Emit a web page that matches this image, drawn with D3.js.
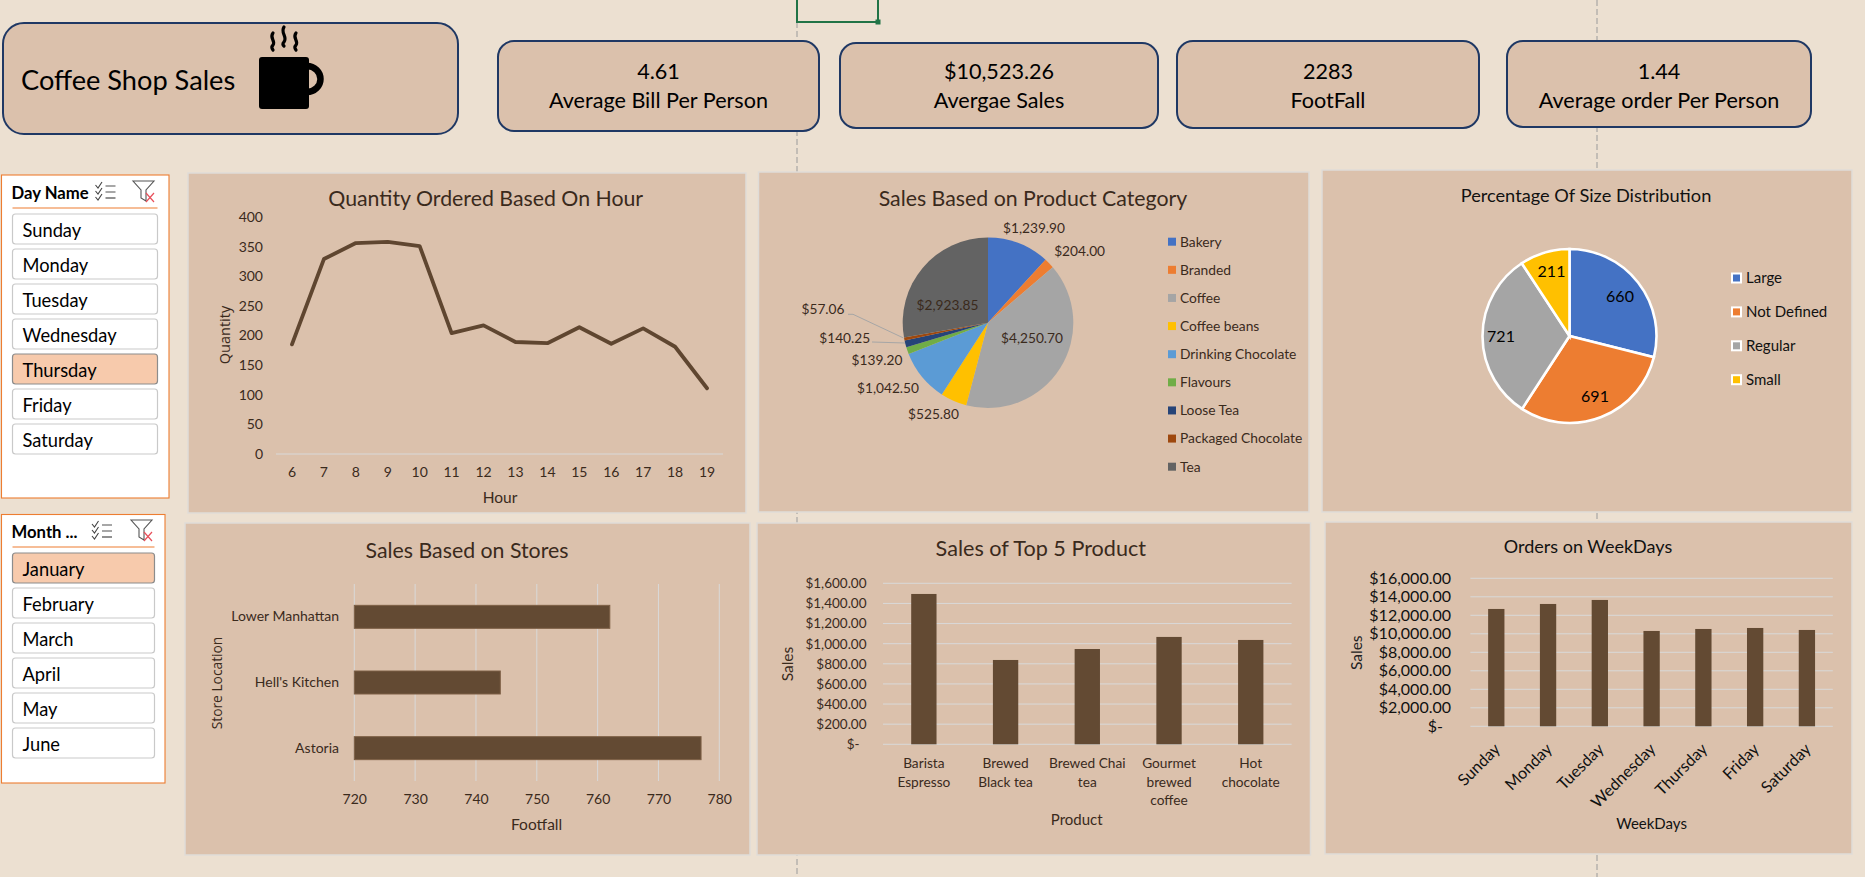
<!DOCTYPE html>
<html><head><meta charset="utf-8">
<style>html,body{margin:0;padding:0;background:#ece0d1;overflow:hidden}svg{display:block}text{font-family:Lato,"Open Sans",sans-serif}</style>
<script src="https://cdn.jsdelivr.net/npm/d3@7"></script>
</head><body><svg id="c" width="1865" height="877"></svg>
<script>
// ---- data ----
const dayNames = ["Sunday","Monday","Tuesday","Wednesday","Thursday","Friday","Saturday"];
const monthNames = ["January","February","March","April","May","June"];
const selectedDay = "Thursday", selectedMonth = "January";
const kpiValues = ["4.61","$10,523.26","2283","1.44"];
const kpiLabels = ["Average Bill Per Person","Avergae Sales","FootFall","Average order Per Person"];
const hours = [6,7,8,9,10,11,12,13,14,15,16,17,18,19];
const hourQty = [185,329,356,358,351,204,217,189,187,214,186,212,181,111];
const categories = ["Bakery","Branded","Coffee","Coffee beans","Drinking Chocolate","Flavours","Loose Tea","Packaged Chocolate","Tea"];
const categorySales = [1239.90,204.00,4250.70,525.80,1042.50,139.20,140.25,57.06,2923.85];
const sizes = ["Large","Not Defined","Regular","Small"];
const sizeCounts = [660,691,721,211];
const stores = ["Lower Manhattan","Hell's Kitchen","Astoria"];
const storeFootfall = [762,744,777];
const products = [["Barista","Espresso"],["Brewed","Black tea"],["Brewed Chai","tea"],["Gourmet","brewed","coffee"],["Hot","chocolate"]];
const productSales = [1494,838,947,1067,1037];
const weekdaySales = [12685,13225,13658,10306,10522,10630,10414];
// ---- style ----
const BG="#ece0d1",PANEL="#dbc1ac",NAVY="#1f3864",BAR="#634a33",LINE="#5f4630",GRID="#d9d9d9",TXT="#3a2a1c",ORG="#ed7d31";
const OFFICE=["#4472c4","#ed7d31","#a5a5a5","#ffc000","#5b9bd5","#70ad47","#264478","#9e480e","#636363"];
const svg=d3.select("#c");
function T(g,x,y,s,size,o={}){const t=g.append("text").attr("x",x).attr("y",y).attr("dy","0.35em").attr("font-size",size)
  .attr("fill",o.fill||TXT).attr("text-anchor",o.anchor||"middle").text(s);
  if(o.weight)t.attr("font-weight",o.weight);
  if(o.rot)t.attr("transform",`rotate(${o.rot} ${x} ${y})`);
  if(o.family)t.style("font-family",o.family);
  return t;}
function panel(x0,y0,x1,y1){svg.append("rect").attr("x",x0).attr("y",y0).attr("width",x1-x0).attr("height",y1-y0).attr("fill",PANEL).attr("stroke","#dfdcd8").attr("stroke-width",1.5);}
function card(x0,y0,x1,y1,r){svg.append("rect").attr("x",x0).attr("y",y0).attr("width",x1-x0).attr("height",y1-y0).attr("rx",r).attr("fill",PANEL).attr("stroke",NAVY).attr("stroke-width",2);}
function cleanAxis(g,size,color){g.select(".domain").remove();g.selectAll(".tick line").remove();g.selectAll("text").attr("font-size",size).attr("fill",color||TXT).style("font-family","Lato");}

// sheet furniture
[797,1597].forEach(x=>svg.append("line").attr("x1",x).attr("x2",x).attr("y1",x===797?22:0).attr("y2",877).attr("stroke","#9a9a9a").attr("stroke-dasharray","6 3"));
svg.append("rect").attr("x",797).attr("y",-3).attr("width",81).attr("height",25).attr("fill","none").attr("stroke","#217346").attr("stroke-width",2);
svg.append("rect").attr("x",875.5).attr("y",19.5).attr("width",5).attr("height",5).attr("fill","#217346");

// header
card(3,23,458,134,21);
T(svg,21,80,"Coffee Shop Sales",27.2,{anchor:"start",fill:"#000"});
const mug=svg.append("g");
mug.append("path").attr("fill","none").attr("stroke","#000").attr("stroke-width",6.5).attr("d","M307 66 A13.5 13 0 0 1 307 92");
mug.append("rect").attr("x",259).attr("y",57).attr("width",50).attr("height",52).attr("rx",3).attr("fill","#000");
[["M273 33 C269 38,276 41,273 45 C271 47,272 49,273 50"],["M284 27 C280 33,288 37,284 42 C282 44,283 45,284 46"],["M296 33 C292 38,299 41,296 45 C294 47,295 49,296 50"]].forEach(d=>
  mug.append("path").attr("d",d[0]).attr("fill","none").attr("stroke","#000").attr("stroke-width",3.2).attr("stroke-linecap","round"));
const kpiBox=[[498,41,819,131],[840,43,1158,128],[1177,41,1479,128],[1507,41,1811,127]];
kpiBox.forEach((b,i)=>{card(b[0],b[1],b[2],b[3],16);
  T(svg,(b[0]+b[2])/2,71,kpiValues[i],21.6,{fill:"#000"});
  T(svg,(b[0]+b[2])/2,100.5,kpiLabels[i],21.6,{fill:"#000"});});

// slicers
function slicer(x0,y0,x1,y1,title,items,sel,ix0,ix1,iy0,lineY,mx,fx){
  const g=svg.append("g");
  g.append("rect").attr("x",x0).attr("y",y0).attr("width",x1-x0).attr("height",y1-y0).attr("fill","#fff").attr("stroke",ORG).attr("stroke-width",1.1);
  T(g,ix0-1,lineY-15,title,16.7,{anchor:"start",weight:700,fill:"#000"});
  g.append("line").attr("x1",ix0).attr("x2",ix1).attr("y1",lineY).attr("y2",lineY).attr("stroke",ORG).attr("stroke-width",1.2);
  const ty=lineY-25;
  [0,6,12].forEach(d=>{
    g.append("path").attr("d",`M${mx} ${ty+d+2} l2.5 3 l4 -6`).attr("fill","none").attr("stroke","#444").attr("stroke-width",1.1);
    g.append("line").attr("x1",mx+10).attr("x2",mx+20).attr("y1",ty+d+3).attr("y2",ty+d+3).attr("stroke",d==12?"#555":"#777").attr("stroke-width",1.3);});
  g.append("path").attr("d",`M${fx} ${ty-2} h21 l-8 9 v11 l-5 -3 v-8 z`).attr("fill","none").attr("stroke","#555").attr("stroke-width",1.1);
  g.append("path").attr("d",`M${fx+13} ${ty+10} l8 9 M${fx+21} ${ty+10} l-8 9`).attr("fill","none").attr("stroke","#e8505b").attr("stroke-width",1.2);
  items.forEach((d,i)=>{const y=iy0+i*35,on=d===sel;
    g.append("rect").attr("x",ix0).attr("y",y).attr("width",ix1-ix0).attr("height",30).attr("rx",3)
      .attr("fill",on?"#f7caac":"#fff").attr("stroke",on?"#8c8c8c":"#c9c9c9").attr("stroke-width",1.2);
    T(g,ix0+10,y+16.2,d,18.3,{anchor:"start",fill:"#000"});});
}
slicer(1.5,175,169,498,"Day Name",dayNames,selectedDay,12.5,157.5,214,208,95.5,133);
slicer(1.5,514.5,165,783,"Month ...",monthNames,selectedMonth,12.5,154.5,553,547,92,131);

// chart 1: line
panel(188,173,746,513);
T(svg,485.7,199,"Quantity Ordered Based On Hour",21.3);
{const x=d3.scaleBand().domain(hours).range([276,723]);
 const y=d3.scaleLinear().domain([0,400]).range([454,217]);
 svg.append("line").attr("x1",276).attr("x2",723).attr("y1",y(0)).attr("y2",y(0)).attr("stroke",GRID).attr("stroke-width",1);
 const ax=svg.append("g").attr("transform","translate(0,467)").call(d3.axisBottom(x).tickSize(0).tickPadding(0));cleanAxis(ax,14);ax.selectAll("text").attr("dy","0.71em");
 const ay=svg.append("g").attr("transform","translate(263,0)").call(d3.axisLeft(y).tickValues(d3.range(0,401,50)).tickSize(0).tickPadding(0));cleanAxis(ay,14);
 svg.append("path").attr("fill","none").attr("stroke",LINE).attr("stroke-width",3.8).attr("stroke-linejoin","round").attr("stroke-linecap","round")
  .attr("d",d3.line().x((d,i)=>x(hours[i])+x.bandwidth()/2).y(d=>y(d))(hourQty));
 T(svg,500,498,"Hour",15.5);
 T(svg,225,335,"Quantity",14.5,{rot:-90,family:"Open Sans"});
}

// chart 2: category pie
panel(758.5,172,1309,512);
T(svg,1033,199,"Sales Based on Product Category",21.3);
{const c=[988,322.7],R=85.3;
 const arcs=d3.pie().sort(null).value(d=>d)(categorySales);
 const arc=d3.arc().innerRadius(0).outerRadius(R);
 const g=svg.append("g").attr("transform",`translate(${c})`);
 g.selectAll("path").data(arcs).join("path").attr("d",arc).attr("fill",(d,i)=>OFFICE[i]);
 const labelOffsets=[[46,-94],[91.6,-71],[44,15.3],[-54.5,91.3],[-100,65.3],[-111,37.3],[-143.3,15.3],[-165,-13.7],[-40.5,-17.7]];
 const fmt=d3.format("$,.2f");
 labelOffsets.forEach((o,i)=>T(g,o[0],o[1],fmt(categorySales[i]),13.7));
 const leader=d3.line();
 g.append("path").attr("fill","none").attr("stroke","#a6a6a6").attr("d",leader([[-140,-8.4],[-135,-8.4],[-84.5,15.3]]));
 g.append("path").attr("fill","none").attr("stroke","#a6a6a6").attr("d",leader([[-116,19.3],[-83,20.3]]));
 const ly=d3.scalePoint().domain(categories).range([241.7,466.7]);
 categories.forEach((d,i)=>{svg.append("rect").attr("x",1168).attr("y",ly(d)-4).attr("width",8).attr("height",8).attr("fill",OFFICE[i]);
  T(svg,1180,ly(d),d,13.8,{anchor:"start"});});
}

// chart 3: size pie
panel(1322,170,1852,512);
T(svg,1586,195.5,"Percentage Of Size Distribution",18.2,{fill:"#111"});
{const c=[1569.5,336],R=87;
 const arcs=d3.pie().sort(null).value(d=>d)(sizeCounts);
 const arc=d3.arc().innerRadius(0).outerRadius(R);
 const g=svg.append("g").attr("transform",`translate(${c})`);
 g.selectAll("path").data(arcs).join("path").attr("d",arc).attr("fill",(d,i)=>OFFICE[i]).attr("stroke","#fff").attr("stroke-width",2.6);
 const off=[[50.5,-39.3],[25.5,60.7],[-68.5,0.7],[-18,-64.3]];
 off.forEach((o,i)=>T(g,o[0],o[1],sizeCounts[i],16,{fill:"#000"}));
 const ly=d3.scalePoint().domain(sizes).range([278,379.7]);
 sizes.forEach((d,i)=>{svg.append("rect").attr("x",1732).attr("y",ly(d)-4.5).attr("width",9).attr("height",9).attr("fill",OFFICE[i]).attr("stroke","#fff").attr("stroke-width",2);
  T(svg,1746,ly(d),d,15,{anchor:"start",fill:"#111"});});
}

// chart 4: stores
panel(185,523,750,855);
T(svg,467,551,"Sales Based on Stores",21.3);
{const x=d3.scaleLinear().domain([720,780]).range([354.3,719.3]);
 const y=d3.scaleBand().domain(stores).range([584,781]).paddingInner(0.65).paddingOuter(0.325);
 const gl=svg.append("g");
 x.ticks(6).forEach(t=>gl.append("line").attr("x1",x(t)).attr("x2",x(t)).attr("y1",584).attr("y2",781).attr("stroke",GRID).attr("stroke-width",1));
 svg.selectAll(".b4").data(stores).join("rect").attr("x",x(720)).attr("y",d=>y(d)).attr("width",(d,i)=>x(storeFootfall[i])-x(720)).attr("height",y.bandwidth())
  .attr("fill",BAR).attr("stroke","#7d5f45").attr("stroke-width",1);
 const ax=svg.append("g").attr("transform","translate(0,794)").call(d3.axisBottom(x).ticks(6).tickSize(0).tickPadding(0));cleanAxis(ax,14);ax.selectAll("text").attr("dy","0.71em");
 const ay=svg.append("g").attr("transform","translate(339,0)").call(d3.axisLeft(y).tickSize(0).tickPadding(0));cleanAxis(ay,14);
 T(svg,536.6,824.7,"Footfall",15.5);
 T(svg,216.7,683,"Store Location",13.8,{rot:-90,family:"Open Sans"});
}

// chart 5: products
panel(757,523,1310.5,855);
T(svg,1040.8,548.7,"Sales of Top 5 Product",21.6);
const moneyTick=d=>d===0?"$-":d3.format("$,.2f")(d);
{const x=d3.scaleBand().domain(products.map(p=>p.join(" "))).range([883,1291.6]).paddingInner(0.69).paddingOuter(0.345);
 const y=d3.scaleLinear().domain([0,1600]).range([744.3,583.3]);
 y.ticks(8).forEach(t=>svg.append("line").attr("x1",883).attr("x2",1291.6).attr("y1",y(t)).attr("y2",y(t)).attr("stroke",GRID).attr("stroke-width",1));
 svg.selectAll(".b5").data(productSales).join("rect").attr("x",(d,i)=>x(products[i].join(" "))).attr("y",d=>y(d)).attr("width",x.bandwidth()).attr("height",d=>y(0)-y(d)).attr("fill",BAR);
 const ay=svg.append("g").attr("transform","translate(866.5,0)").call(d3.axisLeft(y).ticks(8).tickFormat(moneyTick).tickSize(0).tickPadding(0));cleanAxis(ay,13.5);
 ay.selectAll(".tick").filter(d=>d===0).select("text").attr("x",-7);
 products.forEach((p,i)=>p.forEach((s,j)=>T(svg,x(p.join(" "))+x.bandwidth()/2,763.7+j*18.4,s,13.7)));
 T(svg,1076.7,820,"Product",15);
 T(svg,787.7,664,"Sales",15.5,{rot:-90});
}

// chart 6: weekdays
panel(1325,522,1852,854);
T(svg,1588,546.7,"Orders on WeekDays",18,{fill:"#111"});
{const x=d3.scaleBand().domain(dayNames).range([1470.4,1832.8]).paddingInner(0.685).paddingOuter(0.3425);
 const y=d3.scaleLinear().domain([0,16000]).range([726.3,578.3]);
 y.ticks(8).forEach(t=>svg.append("line").attr("x1",1470.4).attr("x2",1832.8).attr("y1",y(t)).attr("y2",y(t)).attr("stroke",GRID).attr("stroke-width",1));
 svg.selectAll(".b6").data(weekdaySales).join("rect").attr("x",(d,i)=>x(dayNames[i])).attr("y",d=>y(d)).attr("width",x.bandwidth()).attr("height",d=>y(0)-y(d)).attr("fill",BAR);
 const ay=svg.append("g").attr("transform","translate(1451,0)").call(d3.axisLeft(y).ticks(8).tickFormat(moneyTick).tickSize(0).tickPadding(0));cleanAxis(ay,16,"#111");
 ay.selectAll(".tick").filter(d=>d===0).select("text").attr("x",-8);
 dayNames.forEach(d=>{const px=x(d)+x.bandwidth()/2+5,py=750;
  svg.append("text").attr("x",px).attr("y",py).attr("font-size",16.2).attr("fill","#111").attr("text-anchor","end").attr("transform",`rotate(-45 ${px} ${py})`).text(d);});
 T(svg,1651.6,823.7,"WeekDays",15,{fill:"#111"});
 T(svg,1356.7,652.7,"Sales",15.5,{rot:-90,fill:"#222"});
}
</script></body></html>
